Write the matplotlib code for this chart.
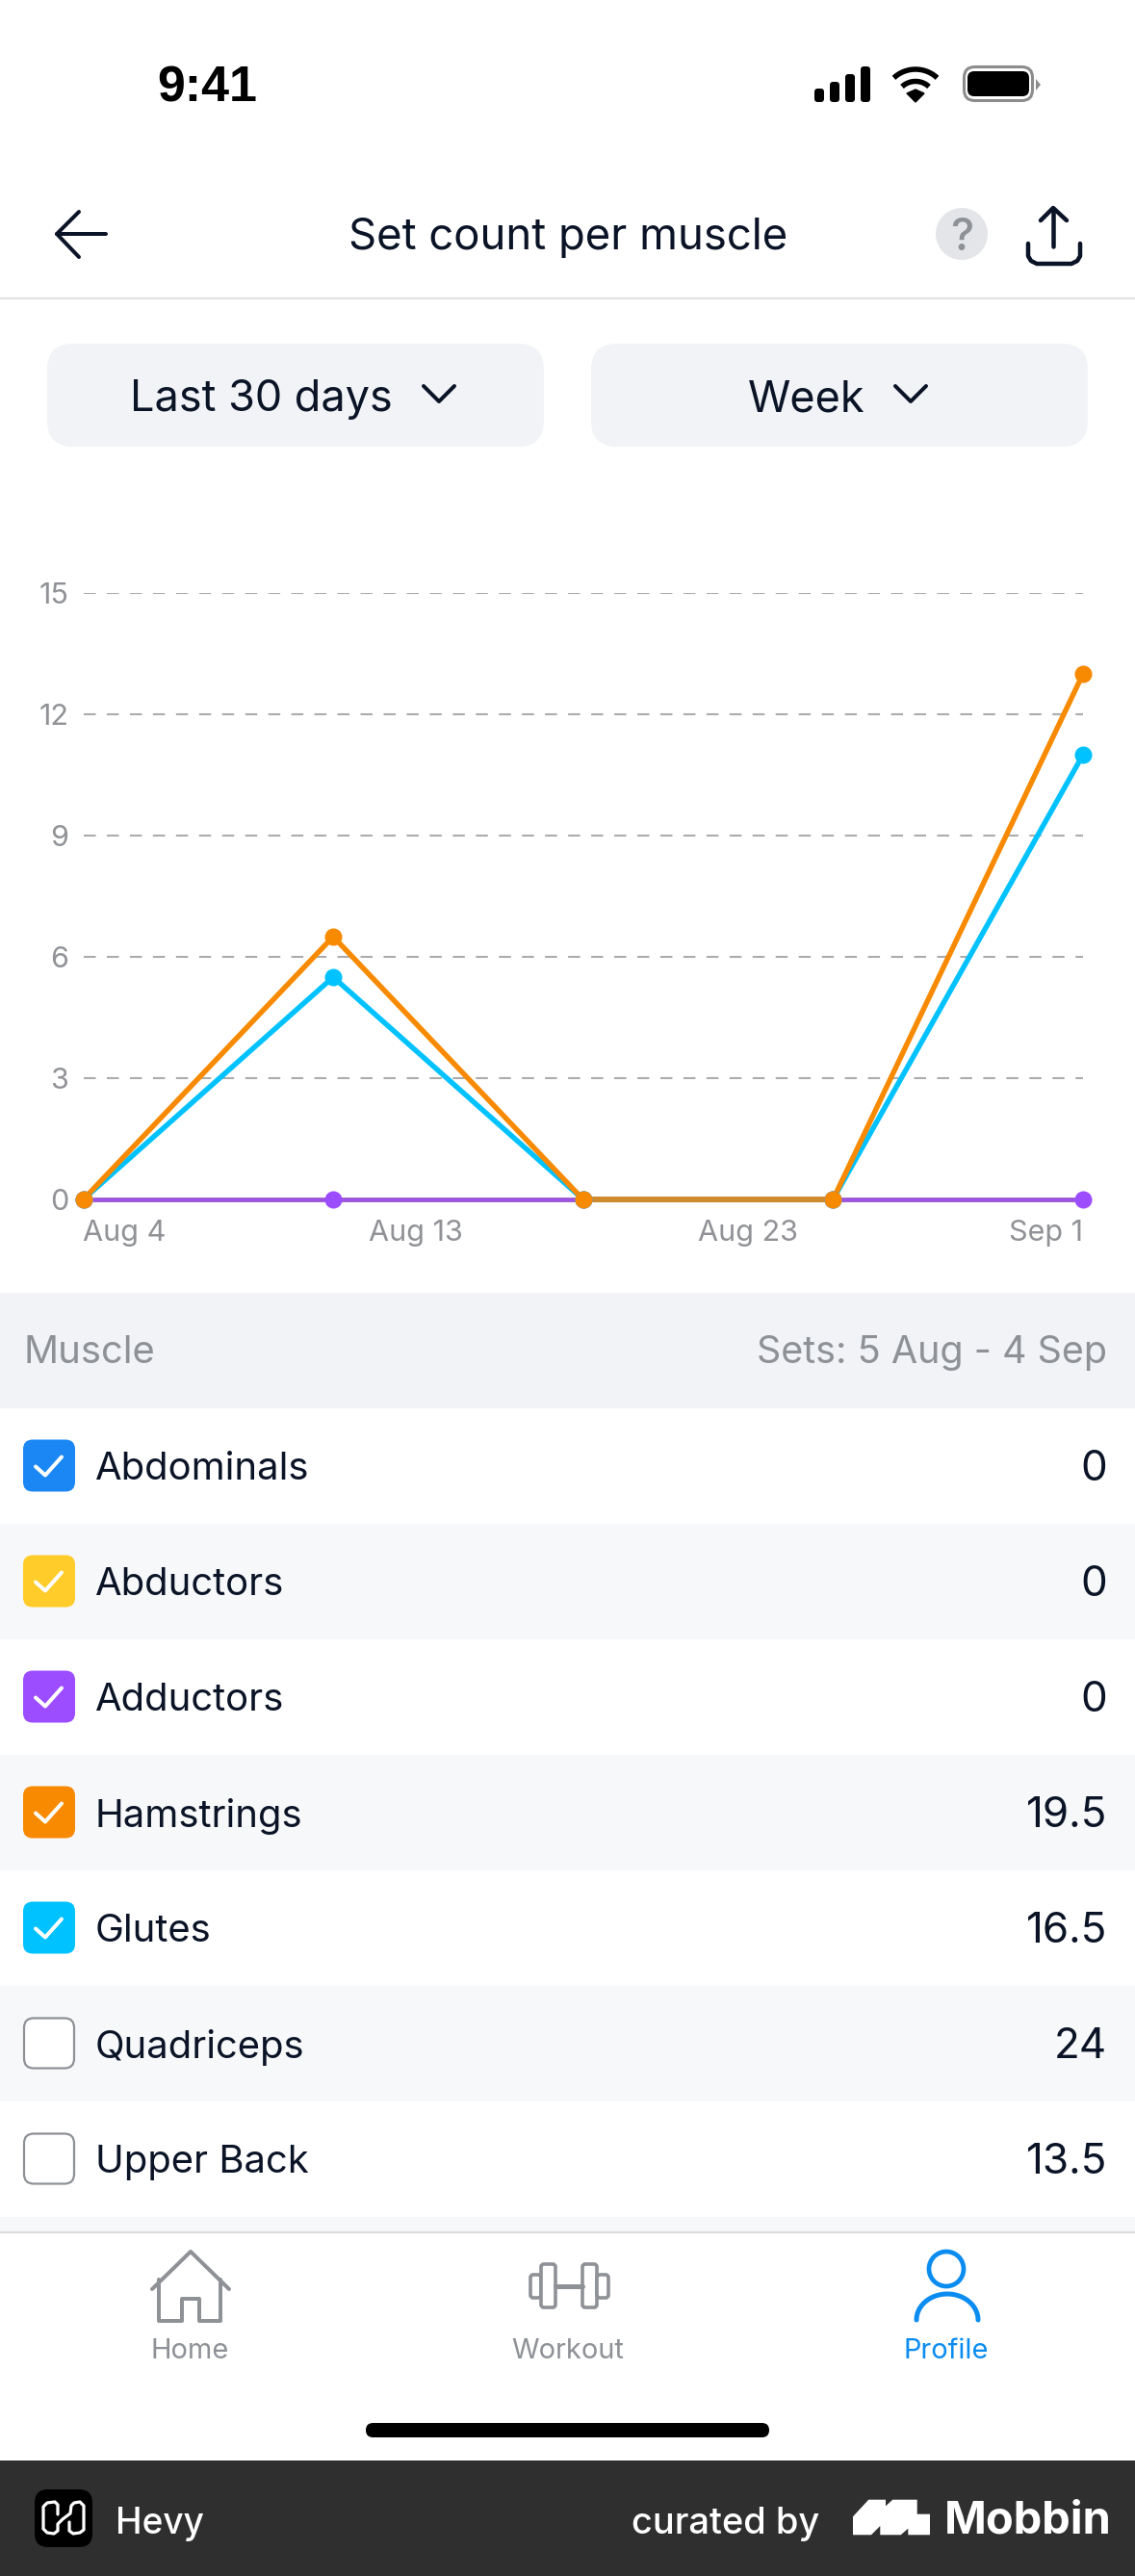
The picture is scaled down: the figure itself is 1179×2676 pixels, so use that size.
import numpy as np
import matplotlib
matplotlib.use("Agg")
import matplotlib.pyplot as plt
from matplotlib.patches import FancyBboxPatch, Circle, Ellipse, Polygon, Rectangle

W, H = 1179, 2676
FONT = "Inter"

# chart data
x_index = [0, 1, 2, 3, 4]
abdominals = [0, 0, 0, 0, 0]
abductors = [0, 0, 0, 0, 0]
adductors = [0, 0, 0, 0, 0]
glutes = [0, 5.5, 0, 0, 11]
hamstrings = [0, 6.5, 0, 0, 13]
y_ticks = [0, 3, 6, 9, 12, 15]
x_tick_pos = [0, 1.33, 2.66, 4]
x_tick_labels = ["Aug 4", "Aug 13", "Aug 23", "Sep 1"]

# table data
muscles = ["Abdominals", "Abductors", "Adductors", "Hamstrings", "Glutes", "Quadriceps", "Upper Back"]
totals = ["0", "0", "0", "19.5", "16.5", "24", "13.5"]
checked = [True, True, True, True, True, False, False]
box_colors = ["#1a87f5", "#ffcc29", "#9b4dff", "#f78a00", "#00c2ff", None, None]

INK = "#0b1426"
GREY = "#8e9196"
BLUE = "#0a8cf0"

fig = plt.figure(figsize=(W / 100, H / 100), dpi=100, facecolor="white")
ui = fig.add_axes([0, 0, 1, 1])
ui.set_xlim(0, W)
ui.set_ylim(H, 0)
ui.axis("off")


def label(x, y, s, px, color=INK, ha="left", weight="normal", family=FONT):
    ui.text(x, y, s, fontsize=px * 0.72, color=color, ha=ha, va="center_baseline",
            fontweight=weight, family=family, zorder=5)


def rrect(x0, y0, x1, y1, r, fc, ec="none", lw=0, z=1):
    ui.add_patch(FancyBboxPatch((x0, y0), x1 - x0, y1 - y0, boxstyle=f"round,pad=0,rounding_size={r}",
                                fc=fc, ec=ec, lw=lw, zorder=z))


def stroke(xs, ys, color=INK, px=4, z=3, cap="round"):
    ui.plot(xs, ys, color=color, lw=px * 0.72, solid_capstyle=cap, solid_joinstyle="round", zorder=z)


# status bar
label(163, 87, "9:41", 52, color="black", weight="bold", family="Liberation Sans")
for bx, top in zip([846, 862, 878, 894], [92, 85, 77, 69]):
    rrect(bx, top, bx + 10, 106, 3.5, "black")
ang = np.radians(np.linspace(-43, 43, 30))
ui.add_patch(Polygon([(951, 106), (942, 97), (951, 93), (960, 97)], fc="black", ec="black", lw=1, zorder=3))
for r in [20.5, 33]:
    stroke(951 + r * np.sin(ang), 105 - r * np.cos(ang), color="black", px=5.5, cap="butt")
rrect(1001.5, 69.5, 1072.5, 104.5, 11, "white", ec="#8c8c8c", lw=2.2)
rrect(1005, 74, 1069, 100, 7, "black", z=2)
ui.add_patch(Polygon([(1076, 82), (1081, 88), (1076, 94)], fc="#8c8c8c", ec="none"))

# navigation header
stroke([59, 110], [243, 243])
stroke([82, 59, 82], [220, 243, 267])
label(590, 242, "Set count per muscle", 45.5, ha="center")
ui.add_patch(Circle((999, 243), 27, fc="#e3e5e8", ec="none"))
label(999, 243, "?", 46, color="#8e9196", ha="center", weight="medium")
stroke([1094, 1094], [217, 256], px=4.5)
stroke([1081, 1094, 1108], [229, 216, 229], px=4.5)
stroke([1068, 1068, 1071, 1077, 1113, 1119, 1122, 1122],
       [253, 266, 271, 274, 274, 271, 266, 253], px=4.5)
ui.plot([0, W], [309.5, 309.5], color="#e2e3e5", lw=1.6)

# dropdown buttons
rrect(49, 357, 565, 464, 27, "#f1f3f6")
rrect(614, 357, 1130, 464, 27, "#f1f3f6")
label(135, 411, "Last 30 days", 45)
label(777, 411, "Week", 45)
stroke([440, 456, 472], [401, 417, 401])
stroke([930, 946, 962], [401, 417, 401])

# table
ui.add_patch(Rectangle((0, 1343), W, 119.5, fc="#f1f3f6", ec="none"))
label(25, 1402, "Muscle", 40, color=GREY)
label(1150, 1402, "Sets: 5 Aug - 4 Sep", 39.5, color=GREY, ha="right")
for i, name in enumerate(muscles):
    top = 1462.5 + i * 120
    mid = top + 60
    if i % 2 == 1:
        ui.add_patch(Rectangle((0, top), W, 120, fc="#f7f8fa", ec="none"))
    if checked[i]:
        rrect(24, mid - 27, 78, mid + 27, 10, box_colors[i], z=2)
        stroke([37, 47, 64], [mid + 1, mid + 10, mid - 9], color="white", px=4)
    else:
        rrect(25, mid - 26, 77, mid + 26, 10, "white", ec="#8e9196", lw=1.6, z=2)
    label(99, mid, name, 40)
    label(1150, mid - 1, totals[i], 44, ha="right")
ui.add_patch(Rectangle((0, 2302.5), W, 16.5, fc="#f7f8fa", ec="none"))
ui.plot([0, W], [2319, 2319], color="#dcdde0", lw=1.6)

# tab bar
stroke([158, 198, 238], [2378, 2339, 2378], color=GREY, px=4)
stroke([165, 165, 189, 189, 207, 207, 229, 229],
       [2368, 2411, 2411, 2388, 2388, 2411, 2411, 2368], color=GREY, px=4)
for x0, x1, y0, y1 in [(551, 562, 2363, 2387), (562, 577, 2352, 2397), (605, 620, 2352, 2397), (620, 632, 2363, 2387)]:
    rrect(x0, y0, x1, y1, 3, "white", ec=GREY, lw=2.6, z=3)
stroke([577, 605], [2375, 2375], color=GREY, px=5)
ui.add_patch(Ellipse((983, 2357), 36, 36, fc="none", ec=BLUE, lw=3.4))
arc = np.radians(np.linspace(0, 180, 40))
stroke(984 + 32 * np.cos(arc), 2410 - 27 * np.sin(arc), color=BLUE, px=5)
label(197, 2439, "Home", 29, color=GREY, ha="center")
label(590, 2439, "Workout", 29, color=GREY, ha="center")
label(983, 2439, "Profile", 29, color=BLUE, ha="center")
rrect(380, 2517, 799, 2532, 7.5, "black")

# footer
ui.add_patch(Rectangle((0, 2556), W, 120, fc="#2f2f2f", ec="none"))
rrect(36, 2586, 96, 2646, 14, "black")
hx = [60, 60, 57, 49, 45, 45, 49, 56, 60, 60, 65, 73, 74, 77, 83, 87, 87, 83, 76, 72, 72]
hy = [2612, 2602, 2599, 2600, 2604, 2627, 2631, 2632, 2629, 2622, 2617, 2611, 2603, 2600, 2599, 2603, 2628, 2631, 2632, 2629, 2620]
stroke(hx, hy, color="white", px=3.2, z=4)
label(120, 2618, "Hevy", 37, color="white", weight="medium")
label(656, 2618, "curated by", 38, color="white", weight="medium")
ui.add_patch(Polygon([(886, 2614.3), (902.3, 2596.7), (920, 2596.7), (920, 2603.3), (927.3, 2596.7),
                      (952.7, 2596.7), (952.7, 2611.7), (966, 2611.7), (966, 2633.3), (943.3, 2633.3),
                      (943.3, 2626.7), (935.7, 2633.3), (914.3, 2633.3), (914.3, 2624), (905, 2633.3),
                      (886, 2633.3)], fc="white", ec="none"))
label(981, 2615, "Mobbin", 47, color="white", weight="bold")

# chart, axes box placed so the data scale matches the reference pixels
left, right = 86.5, 1125
top, bottom = 616, 1246
ax = fig.add_axes([left / W, 1 - bottom / H, (right - left) / W, (bottom - top) / H])
ax.patch.set_alpha(0)
ax.set_xlim(0, 4)
ax.set_ylim(0, 15)
for s in ax.spines.values():
    s.set_visible(False)
ax.set_yticks(y_ticks)
ax.set_xticks(x_tick_pos)
ax.set_xticklabels(x_tick_labels)
ax.tick_params(length=0, labelsize=22, labelcolor="#909296", pad=11)
ax.tick_params(axis="x", pad=15)
for t in ax.get_xticklabels() + ax.get_yticklabels():
    t.set_family(FONT)
ax.get_xticklabels()[0].set_ha("left")
ax.get_xticklabels()[-1].set_ha("right")
ax.grid(axis="y", color="#acacac", lw=1.5, linestyle=(0, (6, 5.5)))
ax.set_axisbelow(True)

# lines first, markers on top; the flat stretch where hamstrings covers
# the purple line reads brown in the app, so it gets its own colour
ax.plot(x_index, abdominals, "-", color="#1a87f5", lw=3.3, clip_on=False)
ax.plot(x_index, abductors, "-", color="#ffcc29", lw=3.3, clip_on=False)
ax.plot(x_index, adductors, "-", color="#9b52e6", lw=3.3, clip_on=False)
ax.plot(x_index, glutes, "-", color="#00c2ff", lw=3.9, clip_on=False)
ax.plot(x_index, hamstrings, "-", color="#f78a00", lw=3.9, clip_on=False)
ax.plot(x_index[2:4], hamstrings[2:4], "-", color="#d08a2c", lw=4.0, clip_on=False)

for vals, col in [(adductors, "#9b4dff"), (glutes, "#00c2ff"), (hamstrings, "#f78a00")]:
    ax.plot(x_index, vals, "o", color=col, ms=13, mew=0, clip_on=False)

fig.savefig("out.png", dpi=100, facecolor="white")
